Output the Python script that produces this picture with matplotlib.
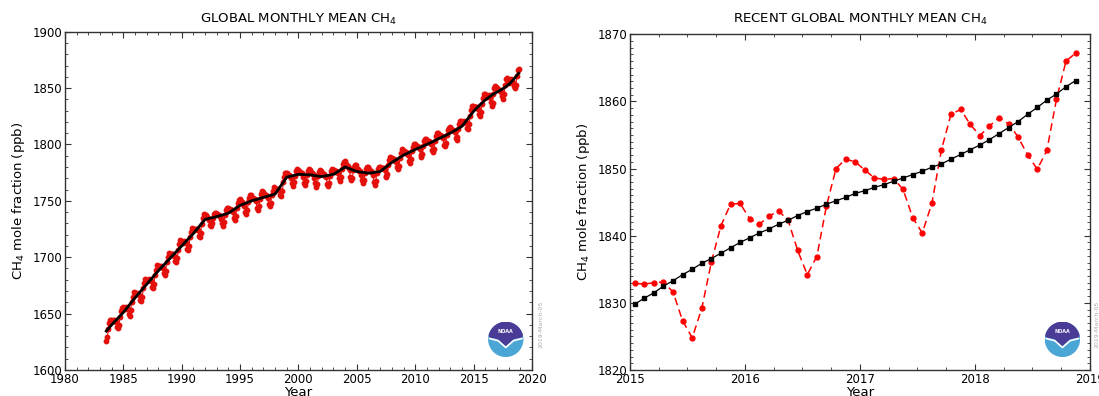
import numpy as np
import matplotlib.pyplot as plt
from matplotlib.patches import Circle, Polygon
from matplotlib.ticker import MultipleLocator

# Globalny średni miesięczny CH4 (ppb), od lipca 1983 do grudnia 2014, jeden wiersz na rok
ch4_early = [
    1625.8, 1629.0, 1636.0, 1641.5, 1644.5, 1644.5,                                           # 1983 VII-XII
    1643.2, 1643.9, 1643.5, 1644.1, 1642.6, 1638.4, 1637.2, 1640.1, 1646.8, 1652.3, 1655.1, 1656.0,  # 1984
    1654.8, 1654.1, 1655.6, 1655.0, 1654.3, 1649.6, 1647.5, 1652.9, 1660.1, 1665.0, 1668.8, 1668.2,  # 1985
    1667.9, 1667.2, 1668.4, 1667.6, 1666.9, 1662.1, 1661.0, 1664.6, 1672.4, 1677.1, 1680.9, 1680.2,  # 1986
    1679.2, 1679.9, 1680.3, 1679.6, 1678.8, 1674.0, 1672.9, 1676.6, 1684.3, 1689.1, 1692.8, 1692.2,  # 1987
    1691.8, 1691.0, 1692.2, 1691.4, 1690.5, 1685.6, 1684.4, 1688.0, 1695.6, 1700.3, 1703.9, 1703.1,  # 1988
    1702.2, 1702.8, 1702.5, 1703.0, 1701.5, 1696.6, 1695.4, 1699.0, 1706.6, 1711.3, 1714.9, 1714.2,  # 1989
    1713.8, 1713.0, 1714.1, 1713.4, 1712.5, 1707.6, 1706.4, 1710.0, 1717.6, 1722.4, 1725.9, 1725.1,  # 1990
    1724.2, 1724.9, 1725.3, 1724.6, 1723.9, 1719.1, 1717.9, 1721.6, 1729.4, 1734.9, 1738.2, 1737.8,  # 1991
    1737.5, 1736.8, 1736.0, 1735.2, 1733.0, 1729.0, 1727.5, 1730.0, 1735.0, 1738.5, 1739.5, 1739.0,  # 1992
    1738.5, 1737.8, 1737.0, 1736.5, 1734.2, 1730.0, 1728.0, 1731.5, 1737.0, 1741.5, 1743.5, 1743.5,  # 1993
    1742.0, 1742.4, 1741.7, 1741.9, 1739.9, 1734.8, 1733.3, 1736.5, 1743.8, 1748.2, 1750.8, 1751.5,  # 1994
    1749.5, 1748.1, 1748.7, 1747.3, 1745.8, 1740.4, 1738.7, 1741.6, 1748.6, 1752.8, 1755.1, 1755.2,  # 1995
    1752.8, 1752.7, 1751.8, 1751.7, 1749.5, 1744.0, 1742.1, 1745.0, 1751.9, 1756.0, 1758.9, 1757.6,  # 1996
    1756.4, 1755.0, 1755.5, 1754.1, 1752.5, 1747.0, 1745.1, 1748.0, 1754.9, 1759.0, 1761.9, 1760.5,  # 1997
    1759.9, 1759.5, 1760.9, 1760.5, 1760.0, 1755.5, 1754.6, 1758.5, 1766.4, 1771.5, 1774.8, 1775.0,  # 1998
    1774.4, 1772.9, 1773.3, 1771.9, 1770.2, 1765.5, 1763.0, 1766.5, 1772.0, 1776.4, 1777.8, 1777.2,  # 1999
    1776.2, 1775.8, 1774.6, 1774.3, 1771.2, 1766.0, 1763.8, 1767.3, 1772.6, 1776.5, 1778.2, 1777.6,  # 2000
    1775.7, 1775.1, 1773.8, 1773.3, 1770.0, 1765.7, 1762.7, 1765.2, 1771.8, 1775.2, 1777.1, 1776.7,  # 2001
    1774.9, 1773.5, 1773.8, 1772.4, 1770.8, 1765.2, 1763.2, 1766.0, 1772.2, 1776.5, 1778.0, 1777.5,  # 2002
    1777.1, 1775.9, 1776.7, 1775.6, 1774.4, 1769.9, 1767.5, 1770.7, 1777.9, 1782.3, 1784.8, 1785.0,  # 2003
    1783.1, 1781.2, 1781.0, 1779.0, 1776.9, 1770.8, 1768.3, 1770.6, 1777.0, 1780.4, 1782.1, 1781.5,  # 2004
    1778.6, 1778.1, 1776.8, 1776.3, 1773.0, 1768.7, 1765.7, 1768.2, 1774.8, 1778.2, 1780.1, 1779.7,  # 2005
    1777.9, 1776.3, 1776.6, 1775.2, 1773.3, 1767.0, 1764.0, 1767.5, 1774.5, 1778.5, 1780.2, 1780.0,  # 2006
    1779.0, 1779.4, 1778.9, 1779.1, 1777.4, 1772.3, 1770.8, 1774.1, 1781.5, 1786.0, 1789.3, 1788.4,  # 2007
    1787.6, 1786.4, 1787.2, 1786.1, 1784.8, 1779.6, 1778.0, 1781.2, 1788.4, 1792.8, 1796.0, 1795.5,  # 2008
    1794.0, 1792.7, 1793.3, 1792.2, 1790.8, 1785.4, 1783.7, 1786.7, 1793.8, 1798.1, 1800.5, 1800.6,  # 2009
    1798.4, 1798.5, 1797.6, 1797.6, 1795.6, 1790.2, 1788.5, 1791.5, 1798.5, 1802.7, 1805.1, 1805.2,  # 2010
    1803.5, 1802.2, 1802.8, 1801.7, 1800.3, 1794.9, 1793.2, 1796.2, 1803.3, 1807.6, 1810.0, 1810.1,  # 2011
    1807.9, 1808.0, 1807.2, 1807.3, 1805.3, 1799.9, 1798.2, 1801.2, 1808.3, 1812.6, 1815.0, 1815.1,  # 2012
    1813.6, 1812.4, 1813.1, 1812.0, 1810.7, 1805.4, 1803.8, 1806.9, 1814.1, 1818.4, 1820.9, 1821.1,  # 2013
    1819.9, 1819.3, 1820.7, 1820.2, 1819.6, 1814.9, 1814.0, 1817.7, 1825.6, 1830.5, 1833.7, 1834.0,  # 2014
]

# Ostatnie miesiące: styczeń 2015 .. listopad 2018
ch4_recent = [
    1832.9, 1832.8, 1833.0, 1833.1, 1831.6, 1827.3, 1824.8, 1829.2, 1836.1, 1841.5, 1844.7, 1844.8,  # 2015
    1842.5, 1841.7, 1842.9, 1843.7, 1842.3, 1837.8, 1834.2, 1836.9, 1844.4, 1850.0, 1851.4, 1851.0,  # 2016
    1849.8, 1848.6, 1848.4, 1848.5, 1846.9, 1842.7, 1840.4, 1844.8, 1852.8, 1858.1, 1858.8, 1856.6,  # 2017
    1854.9, 1856.3, 1857.6, 1856.7, 1854.7, 1852.0, 1849.9, 1852.7, 1860.3, 1866.0, 1867.2,          # 2018
]
trend_recent = [
    1829.8, 1830.7, 1831.5, 1832.5, 1833.3, 1834.2, 1835.0, 1835.9, 1836.6, 1837.4, 1838.2, 1839.0,
    1839.7, 1840.4, 1841.0, 1841.7, 1842.3, 1843.0, 1843.6, 1844.1, 1844.7, 1845.2, 1845.7, 1846.3,
    1846.7, 1847.2, 1847.6, 1848.1, 1848.6, 1849.1, 1849.6, 1850.2, 1850.7, 1851.4, 1852.1, 1852.8,
    1853.5, 1854.3, 1855.2, 1856.1, 1857.0, 1858.1, 1859.1, 1860.2, 1861.1, 1862.2, 1863.1,
]

# Trend długoterminowy (węzły), do końca 2014
trend_years = [1983.54, 1984, 1985, 1986, 1987, 1988, 1989, 1990, 1991, 1992, 1993, 1994, 1995,
               1996, 1997, 1998, 1999, 2000, 2001, 2002, 2003, 2004, 2005, 2006, 2007, 2008,
               2009, 2010, 2011, 2012, 2013, 2014]
trend_values = [1634.5, 1640, 1651, 1664, 1676, 1688, 1699, 1710, 1721, 1733.5, 1736, 1739, 1746,
                1750, 1753, 1756, 1771, 1773.5, 1773, 1771.5, 1773.5, 1780, 1776, 1774.5, 1776, 1784,
                1790.5, 1795.5, 1800, 1805, 1810, 1816]

stamp = "2019-March-05"

early_dates = 1983 + (6 + np.arange(len(ch4_early)) + 0.5) / 12
recent_dates = 2015 + (np.arange(len(ch4_recent)) + 0.5) / 12

RED = '#e3100c'


def style_axes(ax):
    ax.tick_params(which='both', direction='in', top=True, right=True, labelsize=8.5, pad=2,
                   color='#333333')
    ax.tick_params(which='major', length=4.5, width=0.8)
    ax.tick_params(which='minor', length=2.5, width=0.6)
    for s in ax.spines.values():
        s.set_color('#333333')
        s.set_linewidth(1.0)


def draw_logo(fig, x0, y0, size):
    lax = fig.add_axes([x0, y0, size / fig.get_figwidth() * fig.get_figheight(), size])
    lax.set_xlim(-1.05, 1.05)
    lax.set_ylim(-1.05, 1.05)
    lax.set_aspect('equal')
    lax.axis('off')
    lax.add_patch(Circle((0, 0), 1.0, color='#4aa6d4'))
    t = np.linspace(np.radians(15), np.radians(165), 40)
    pts = [(np.cos(a), np.sin(a)) for a in t] + [(-0.95, 0.15), (-0.45, 0.05), (0, -0.35), (0.45, 0.05), (0.95, 0.15)]
    lax.add_patch(Polygon(pts[:40] + pts[40:][::-1][::-1], closed=True, color='#4a3b97'))
    lax.plot([-0.95, -0.45, 0, 0.45, 0.95], [0.05, -0.08, -0.48, -0.08, 0.05], color='white', lw=1.2)
    lax.text(0, 0.48, "NOAA", color='white', fontsize=3.5, ha='center', va='center', fontweight='bold')


fig = plt.figure(figsize=(10.99, 3.96), dpi=100)

# ===== Lewy wykres =====
ax1 = fig.add_axes([0.0591, 0.0657, 0.4249, 0.8543])
ax1.plot(np.concatenate([early_dates, recent_dates]), ch4_early + ch4_recent,
         color=RED, marker='o', ms=3.2, lw=0.8)
ax1.plot(list(trend_years) + list(recent_dates), trend_values + trend_recent, color='black', lw=2)
ax1.set_xlim(1980, 2020)
ax1.set_ylim(1600, 1900)
ax1.xaxis.set_major_locator(MultipleLocator(5))
ax1.xaxis.set_minor_locator(MultipleLocator(1))
ax1.yaxis.set_major_locator(MultipleLocator(50))
ax1.yaxis.set_minor_locator(MultipleLocator(10))
style_axes(ax1)
ax1.set_title("GLOBAL MONTHLY MEAN CH$_4$", fontsize=9.5, pad=6)
ax1.set_xlabel("Year", fontsize=9.5, labelpad=0)
ax1.set_ylabel("CH$_4$ mole fraction (ppb)", fontsize=9.5, labelpad=4)
fig.text(0.4925, 0.12, stamp, rotation=90, fontsize=4.5, color='#aaaaaa', ha='center', va='bottom')
draw_logo(fig, 0.444, 0.098, 0.09)

# ===== Prawy wykres =====
ax2 = fig.add_axes([0.5732, 0.0657, 0.4186, 0.8477])
ax2.plot(recent_dates, ch4_recent, color='red', ls='--', lw=1.1, dashes=(5, 3),
         marker='o', ms=3.5)
ax2.plot(recent_dates, trend_recent, color='black', lw=0.9, marker='s', ms=2.5)
ax2.set_xlim(2015, 2019)
ax2.set_ylim(1820, 1870)
ax2.xaxis.set_major_locator(MultipleLocator(1))
ax2.xaxis.set_minor_locator(MultipleLocator(0.25))
ax2.yaxis.set_major_locator(MultipleLocator(10))
ax2.yaxis.set_minor_locator(MultipleLocator(1))
style_axes(ax2)
ax2.set_title("RECENT GLOBAL MONTHLY MEAN CH$_4$", fontsize=9.5, pad=8)
ax2.set_xlabel("Year", fontsize=9.5, labelpad=0)
ax2.set_ylabel("CH$_4$ mole fraction (ppb)", fontsize=9.5, labelpad=4)
fig.text(0.9985, 0.12, stamp, rotation=90, fontsize=4.5, color='#aaaaaa', ha='center', va='bottom')
draw_logo(fig, 0.9505, 0.098, 0.09)

fig.savefig("out.png", dpi=100)
